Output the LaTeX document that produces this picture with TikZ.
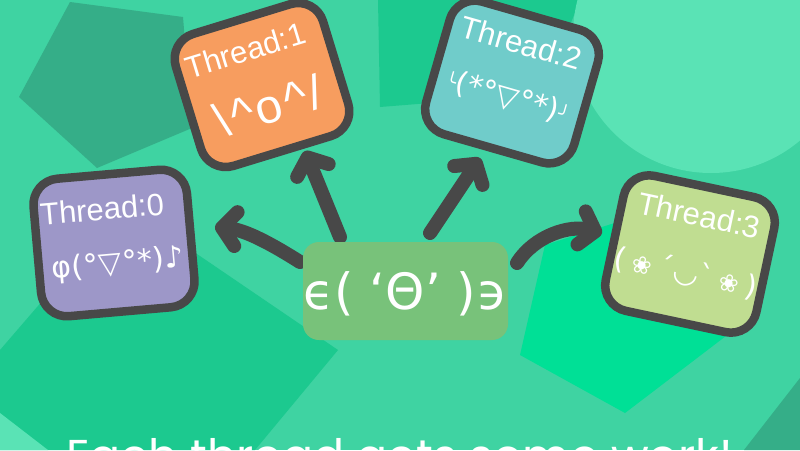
\documentclass[tikz,border=0pt]{standalone}
\usepackage{fontspec}
\usepackage{graphicx}
\setmainfont{Liberation Sans}
\newfontfamily\dvs{DejaVu Sans}
\newfontfamily\pop{Poppins}
\usetikzlibrary{arrows.meta,calc}
\definecolor{bg}{HTML}{3FD3A2}
\definecolor{bgdark}{HTML}{35AE88}
\definecolor{bgmid}{HTML}{1CC98F}
\definecolor{bglight}{HTML}{5AE3B5}
\definecolor{bgbright}{HTML}{00E096}
\definecolor{border}{HTML}{484848}
\definecolor{purp}{HTML}{9D97C8}
\definecolor{orng}{HTML}{F79D5F}
\definecolor{teal}{HTML}{70CCCA}
\definecolor{lgreen}{HTML}{C0DD91}
\definecolor{cbox}{HTML}{78C27A}
\tikzset{
  tbox/.style={draw=border, line width=8.5pt, rounded corners=26pt,
    minimum width=154pt, minimum height=138pt, inner sep=0pt},
  lbl/.style={text=white, inner sep=0pt, font=\fontsize{31}{31}\selectfont},
  kao/.style={text=white, inner sep=0pt, font=\dvs\fontsize{30}{30}\selectfont},
  arr/.style={draw=border, line width=14pt, line cap=round,
    -{Straight Barb[length=14pt, width=34pt, round]}}
}
\begin{document}
\begin{tikzpicture}[x=1pt,y=-1pt]
\useasboundingbox (0,0) rectangle (800,450);
\clip (0,0) rectangle (800,450);
\fill[bg] (0,0) rectangle (800,450);
% background shapes
\fill[bgmid] (378,0) -- (580,0) -- (560,50) -- (430,103) -- (380,107) -- cycle;
\fill[bglight] (711,35) circle[radius=138];
\fill[bgdark] (70,2) -- (183,17) -- (192,128) -- (97,168) -- (19,97) -- cycle;
\fill[bgmid] (0,350) -- (125,205) -- (338,350) -- (255,450) -- (0,450) -- cycle;
\fill[bglight] (0,413) -- (48,450) -- (0,450) -- cycle;
\fill[bgbright] (520,355) -- (545,245) -- (640,215) -- (760,310) -- (625,413) -- cycle;
\fill[bgdark] (800,378) -- (744,450) -- (800,450) -- cycle;

% thread boxes
\begin{scope}[shift={(114,243)},rotate=5,transform shape]
  \node[tbox,fill=purp] (t0) at (0,0) {};
  \node[lbl] (t0l) at (-9,-35) {Thread:0};
  \node[kao] (t0k) at (2,22) {φ(°\kern1pt▽\kern1pt°*)♪};
\end{scope}
\begin{scope}[shift={(262,85)},rotate=17,transform shape]
  \node[tbox,fill=orng] (t1) at (0,0) {};
  \node[lbl] (t1l) at (-6,-38) {Thread:1};
  \node[text=white, inner sep=0pt, font=\fontsize{48}{48}\selectfont] (t1k) at (0,22) {\textbackslash\kern3pt\^{}\kern3pt o\kern3pt\^{}\kern3pt/};
\end{scope}
\begin{scope}[shift={(512,82)},rotate=-16,transform shape]
  \node[tbox,fill=teal] (t2) at (0,0) {};
  \node[lbl] (t2l) at (-2,-40) {Thread:2};
  \node[kao] (t2k) at (0,16) {\raisebox{2pt}{\scalebox{0.6}{╰}}(*°▽°*)\raisebox{2pt}{\scalebox{0.6}{╯}}};
\end{scope}
\begin{scope}[shift={(690,254)},rotate=-12,transform shape]
  \node[tbox,fill=lgreen] (t3) at (0,0) {};
  \node[lbl] (t3l) at (1,-40) {Thread:3};
  \node[kao] (t3k) at (0,19) {(\kern7pt{\fontsize{24}{24}\selectfont ❀}\kern6pt´◡`\kern6pt{\fontsize{24}{24}\selectfont ❀}\kern7pt)};
\end{scope}

% arrows
\coordinate (a0s) at (300,262); \coordinate (a0e) at (215,227);
\coordinate (a1s) at (340,237); \coordinate (a1e) at (305,151);
\coordinate (a2s) at (430,233); \coordinate (a2e) at (480,158);
\coordinate (a3s) at (517,263); \coordinate (a3e) at (602,233);
\draw[arr] (a0s) .. controls (270,243) and (245,230) .. (a0e);
\draw[arr] (a1s) -- (a1e);
\draw[arr] (a2s) -- (a2e);
\draw[arr] (a3s) .. controls (535,235) and (570,225) .. (a3e);

% center box
\node[fill=cbox, rounded corners=16pt, minimum width=205pt, minimum height=98pt, inner sep=0pt] (c) at (405.5,291) {};
\node[text=white, inner sep=0pt, font=\dvs\fontsize{50}{50}\selectfont] (ct) at (405.5,294) {ϵ( ‘Θ’ )϶};

% caption
\node[anchor=base west, text=white, inner sep=0pt, font=\pop\fontsize{46}{46}\selectfont] (cap) at (66,472) {Each thread gets some work!};
\end{tikzpicture}
\end{document}
